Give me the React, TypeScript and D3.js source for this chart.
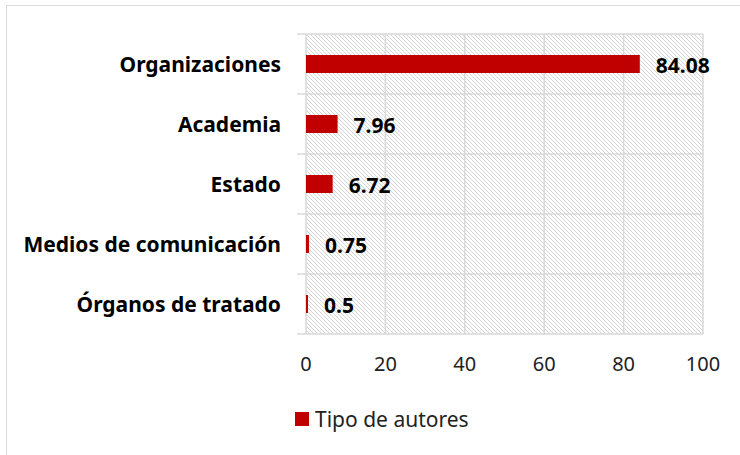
import { useRef, useEffect } from 'react';
import * as d3 from 'd3';

const categories = [
  'Organizaciones',
  'Academia',
  'Estado',
  'Medios de comunicación',
  'Órganos de tratado',
];
const values = [84.08, 7.96, 6.72, 0.75, 0.5];
const xTicks = [0, 20, 40, 60, 80, 100];
const seriesName = 'Tipo de autores';

const RED = '#c00000';
const FONT = '"Noto Sans", sans-serif';

function App() {
  const svgRef = useRef<SVGSVGElement>(null);

  useEffect(() => {
    const svg = d3.select(svgRef.current);
    svg.selectAll('*').remove();

    const W = 740;
    const H = 455;
    const margin = { top: 34, right: 37, bottom: 121, left: 306 };
    const width = W - margin.left - margin.right;
    const height = H - margin.top - margin.bottom;

    // hatch pattern
    const defs = svg.append('defs');
    const pat = defs
      .append('pattern')
      .attr('id', 'hatch')
      .attr('patternUnits', 'userSpaceOnUse')
      .attr('width', 4)
      .attr('height', 4);
    pat.append('rect').attr('width', 4).attr('height', 4).attr('fill', '#fff');
    pat
      .append('path')
      .attr('d', 'M-1,-1 L5,5 M-1,3 L1,5 M3,-1 L5,1')
      .attr('stroke', '#cfcfcf')
      .attr('stroke-width', 0.9);

    // outer frame (right and bottom edges fall outside the picture)
    svg
      .append('rect')
      .attr('x', 6.5)
      .attr('y', 5.5)
      .attr('width', W + 10)
      .attr('height', H + 10)
      .attr('fill', '#fff')
      .attr('stroke', '#d9d9d9');

    const x = d3.scaleLinear().domain([0, 100]).range([0, width]);
    const y = d3.scaleBand().domain(categories).range([0, height]);

    const g = svg
      .append('g')
      .attr('transform', `translate(${margin.left}, ${margin.top})`);

    g.append('rect')
      .attr('width', width)
      .attr('height', height)
      .attr('fill', 'url(#hatch)');

    // vertical gridlines
    g.selectAll('.vgrid')
      .data(xTicks)
      .enter()
      .append('line')
      .attr('x1', (d) => x(d))
      .attr('x2', (d) => x(d))
      .attr('y1', 0)
      .attr('y2', height)
      .attr('stroke', '#d9d9d9')
      .attr('stroke-width', 1.5);

    // horizontal category lines
    const bounds = categories.map((c) => y(c) as number).concat([height]);
    g.selectAll('.hgrid')
      .data(bounds)
      .enter()
      .append('line')
      .attr('x1', -9)
      .attr('x2', width)
      .attr('y1', (d) => d)
      .attr('y2', (d) => d)
      .attr('stroke', '#d9d9d9')
      .attr('stroke-width', 1.5);

    const barH = 18;
    g.selectAll('.bar')
      .data(values)
      .enter()
      .append('rect')
      .attr('x', x(0))
      .attr('y', (_, i) => (y(categories[i]) as number) + y.bandwidth() / 2 - barH / 2)
      .attr('width', (d) => x(d) - x(0))
      .attr('height', barH)
      .attr('fill', RED);

    g.selectAll('.val')
      .data(values)
      .enter()
      .append('text')
      .attr('x', (d) => x(d) + 16)
      .attr('y', (_, i) => (y(categories[i]) as number) + y.bandwidth() / 2 + 1)
      .attr('dy', '0.36em')
      .attr('font-family', FONT)
      .attr('font-weight', 'bold')
      .attr('font-size', 21)
      .attr('fill', '#000')
      .text((d) => String(d));

    g.selectAll('.cat')
      .data(categories)
      .enter()
      .append('text')
      .attr('x', -25)
      .attr('y', (d) => (y(d) as number) + y.bandwidth() / 2)
      .attr('dy', '0.36em')
      .attr('text-anchor', 'end')
      .attr('font-family', FONT)
      .attr('font-weight', 'bold')
      .attr('font-size', 21)
      .attr('fill', '#000')
      .text((d) => d);

    g.selectAll('.tick')
      .data(xTicks)
      .enter()
      .append('text')
      .attr('x', (d) => x(d))
      .attr('y', height + 30)
      .attr('dy', '0.36em')
      .attr('text-anchor', 'middle')
      .attr('font-family', FONT)
      .attr('font-size', 20)
      .attr('fill', '#222')
      .text((d) => String(d));

    // legend
    const lg = svg.append('g').attr('transform', 'translate(295, 419)');
    lg.append('rect')
      .attr('x', 0)
      .attr('y', -7)
      .attr('width', 14)
      .attr('height', 14)
      .attr('fill', RED);
    lg.append('text')
      .attr('x', 20)
      .attr('y', 0)
      .attr('dy', '0.36em')
      .attr('font-family', FONT)
      .attr('font-size', 21)
      .attr('fill', '#222')
      .text(seriesName);

    return () => {
      svg.selectAll('*').remove();
    };
  }, []);

  return (
    <svg
      ref={svgRef}
      width={740}
      height={455}
      style={{ position: 'absolute', left: 0, top: 0 }}
    />
  );
}

export default App;
